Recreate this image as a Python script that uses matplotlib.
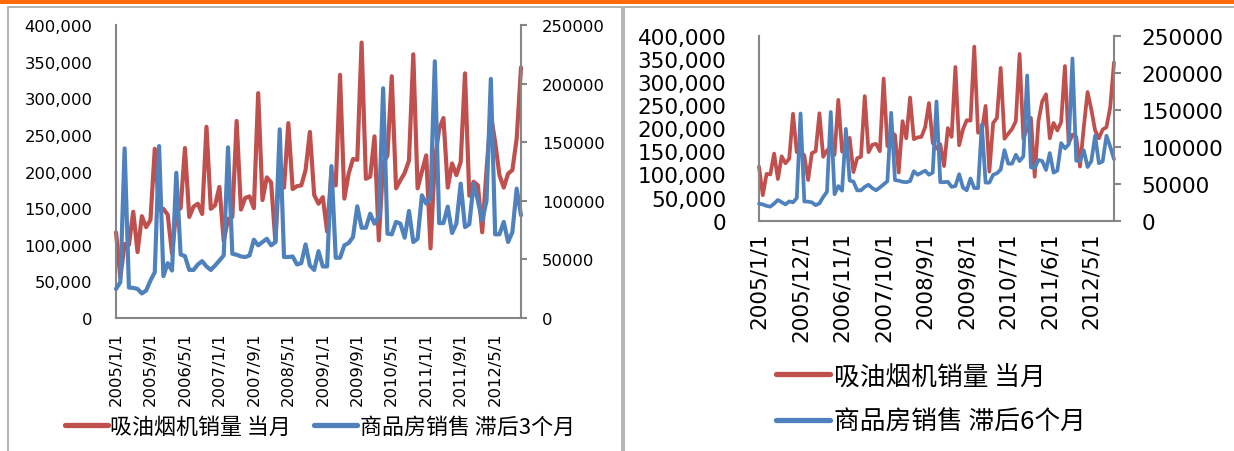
import matplotlib
matplotlib.use('Agg')
import matplotlib.pyplot as plt
from matplotlib.lines import Line2D
from matplotlib.patches import Rectangle
from matplotlib.ticker import FuncFormatter, MultipleLocator
from matplotlib.font_manager import FontProperties
import numpy as np
import pandas as pd

# Monthly categories, 2005/1 onwards
months = pd.date_range('2005-01-01', periods=95, freq='MS')
month_labels = [f'{d.year}/{d.month}/1' for d in months]

# 吸油烟机销量 当月 (units)
range_hood_sales = [
    117000, 55000, 101000, 100000, 145000, 90000, 139000, 124000, 134000, 231000,
    148000, 149000, 141000, 88000, 146000, 150000, 232000, 138000, 152000, 156000,
    142000, 261000, 149000, 154000, 179000, 105000, 135000, 138000, 269000, 148000,
    164000, 166000, 150000, 307000, 161000, 192000, 185000, 104000, 215000, 178000,
    266000, 176000, 180000, 181000, 202000, 254000, 168000, 156000, 165000, 118000,
    200000, 181000, 332000, 163000, 197000, 217000, 216000, 376000, 190000, 193000,
    248000, 106000, 211000, 222000, 330000, 177000, 188000, 198000, 215000, 360000,
    177000, 200000, 222000, 95000, 215000, 258000, 273000, 178000, 211000, 195000,
    213000, 334000, 167000, 186000, 181000, 117000, 202000, 278000, 240000, 195000,
    178000, 197000, 202000, 245000, 342000,
]

# 商品房销售 滞后3个月
housing_sales_lag3 = [
    24800, 30500, 144700, 26000, 25700, 24800, 21000, 23400, 32000, 39000,
    146700, 35700, 46800, 40500, 123900, 54200, 52800, 41000, 41000, 45700,
    48500, 44000, 41000, 44800, 49000, 53400, 145600, 54800, 54000, 52500,
    52000, 53400, 66800, 62000, 64800, 67600, 62000, 64800, 161000, 52000,
    52000, 52500, 45700, 46800, 62800, 44800, 41000, 57000, 44000, 44000,
    129600, 51400, 51400, 62000, 64000, 69000, 95300, 77000, 77000, 89000,
    80500, 86800, 196000, 72000, 71400, 82000, 80500, 68500, 91300, 64800,
    67600, 104700, 97600, 103000, 219000, 81000, 81000, 95000, 72500, 80500,
    114700, 77600, 80000, 114700, 100000, 83000, 100000, 204000, 71400, 71400,
    82000, 64800, 73300, 110400, 87600,
]

# 商品房销售 滞后6个月
housing_sales_lag6 = [
    23000, 22000, 20000, 19000, 23000, 28000, 25000, 22000, 26000, 24800,
    30500, 144700, 26000, 25700, 24800, 21000, 23400, 32000, 39000, 146700,
    35700, 46800, 40500, 123900, 54200, 52800, 41000, 41000, 45700, 48500,
    44000, 41000, 44800, 49000, 53400, 145600, 54800, 54000, 52500, 52000,
    53400, 66800, 62000, 64800, 67600, 62000, 64800, 161000, 52000, 52000,
    52500, 45700, 46800, 62800, 44800, 41000, 57000, 44000, 44000, 129600,
    51400, 51400, 62000, 64000, 69000, 95300, 77000, 77000, 89000, 80500,
    86800, 196000, 72000, 71400, 82000, 80500, 68500, 91300, 64800, 67600,
    104700, 97600, 103000, 219000, 81000, 81000, 95000, 72500, 80500, 114700,
    77600, 80000, 114700, 100000, 83000,
]

label_hood = '吸油烟机销量 当月'
label_lag3 = '商品房销售 滞后3个月'
label_lag6 = '商品房销售 滞后6个月'

RED = '#C0504D'
BLUE = '#4F81BD'
AXIS_GRAY = '#868686'
BOX_GRAY = '#A6A6A6'
ORANGE = '#FF6A0D'

plt.rcParams['font.family'] = ['DejaVu Sans', 'Noto Sans CJK SC']

W, H = 1234, 452
fig = plt.figure(figsize=(W / 100, H / 100), dpi=100)


def px_rect(x0, y0, x1, y1):
    """Axes rectangle from pixel edges (origin top-left)."""
    return [x0 / W, 1 - y1 / H, (x1 - x0) / W, (y1 - y0) / H]


# Orange strip along the top and the two panel frames
fig.patches.append(Rectangle((0, 1 - 5 / H), 1, 5 / H, transform=fig.transFigure,
                             facecolor=ORANGE, edgecolor='none'))
fig.patches.append(Rectangle((8 / W, -0.05), (622 - 8) / W, 1 - 8 / H + 0.05,
                             transform=fig.transFigure, facecolor='none',
                             edgecolor=BOX_GRAY, lw=1.2))
fig.patches.append(Rectangle((624 / W, -0.05), (1240 - 624) / W, 1 - 8 / H + 0.05,
                             transform=fig.transFigure, facecolor='none',
                             edgecolor=BOX_GRAY, lw=1.2))


def draw_panel(rect, housing, step, fs, lw, pad_left, pad_right, pad_x, tick_len):
    x = np.arange(len(months))
    ax = fig.add_axes(rect)
    ax.plot(x, range_hood_sales, color=RED, lw=lw, solid_joinstyle='round',
            solid_capstyle='round', clip_on=False)
    ax2 = ax.twinx()
    ax2.plot(x, housing, color=BLUE, lw=lw, solid_joinstyle='round',
             solid_capstyle='round', clip_on=False)

    ax.set_xlim(0, len(months) - 1)
    ax.set_ylim(0, 400000)
    ax2.set_ylim(0, 250000)
    ax.yaxis.set_major_locator(MultipleLocator(50000))
    ax2.yaxis.set_major_locator(MultipleLocator(50000))
    ax.yaxis.set_major_formatter(FuncFormatter(lambda v, p: f'{v:,.0f}'))
    ax2.yaxis.set_major_formatter(FuncFormatter(lambda v, p: f'{v:.0f}'))

    ax.set_xticks(x[::step])
    ax.set_xticklabels(month_labels[::step], rotation=90)
    ax.tick_params(axis='x', length=0, pad=pad_x, labelsize=fs)
    ax.tick_params(axis='y', length=0, pad=pad_left, labelsize=fs)
    ax2.tick_params(axis='y', length=tick_len, width=1.5, color=AXIS_GRAY,
                    direction='out', pad=pad_right, labelsize=fs)

    for a in (ax, ax2):
        a.spines['top'].set_visible(False)
        for s in ('left', 'right', 'bottom'):
            a.spines[s].set_color(AXIS_GRAY)
            a.spines[s].set_linewidth(1.5)
    ax.spines['right'].set_visible(False)
    ax2.spines['left'].set_visible(False)
    ax2.spines['bottom'].set_visible(False)
    ax2.patch.set_visible(False)
    return ax, ax2


# Left panel: housing sales lagged 3 months
draw_panel(px_rect(116, 26, 521, 319), housing_sales_lag3, 8, 11.8, 3.0,
           pad_left=17, pad_right=10.5, pad_x=9.5, tick_len=4.5)
# Right panel: housing sales lagged 6 months
draw_panel(px_rect(759, 36.5, 1114, 221.7), housing_sales_lag6, 11, 15.5, 2.7,
           pad_left=23.5, pad_right=15, pad_x=7.5, tick_len=5)

handles = [Line2D([], [], color=RED, lw=3.8, solid_capstyle='round'),
           Line2D([], [], color=BLUE, lw=3.8, solid_capstyle='round')]

fig.legend(handles, [label_hood, label_lag3], loc='center left',
           bbox_to_anchor=(54 / W, 1 - 428 / H), ncol=2, frameon=False,
           prop=FontProperties(family=['Noto Sans CJK SC', 'DejaVu Sans'], size=15.8),
           handlelength=1.95, handletextpad=0.12, columnspacing=1.05, borderpad=0)

fig.legend(handles, [label_hood, label_lag6], loc='center left',
           bbox_to_anchor=(763 / W, 1 - 400 / H), ncol=1, frameon=False,
           prop=FontProperties(family=['Noto Sans CJK SC', 'DejaVu Sans'], size=18.5),
           handlelength=2.1, handletextpad=0.15, labelspacing=0.75, borderpad=0)

fig.savefig('out.png', dpi=100)
